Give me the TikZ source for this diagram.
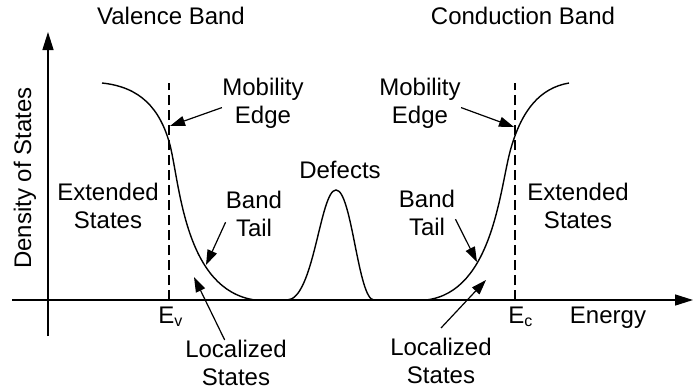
\documentclass[tikz,border=0pt]{standalone}
\usepackage{fontspec}
\setmainfont{Liberation Sans}
\usetikzlibrary{arrows.meta}

\begin{document}
\begin{tikzpicture}[x=0.5pt,y=-0.5pt,font=\fontsize{12}{14}\selectfont,
lbl/.style={inner sep=0pt,align=center},
axisline/.style={-{Triangle[length=9pt,width=5.5pt]},line width=.7pt},
pointer/.style={-{Triangle[length=7.5pt,width=5pt]},line width=.6pt},
guide/.style={dash pattern=on 5pt off 2.5pt,line width=.6pt},
dos/.style={line width=.7pt}]
\useasboundingbox (0,0) rectangle (694,391);
% axes
\draw[axisline] (12,300) -- (693,300);
\draw[axisline] (48,336) -- (48,32);
\node[lbl,rotate=90] (dens) at (25,178) {Density of States};
\node[lbl,anchor=base] (energy) at (608,323) {Energy};
% band edges
\coordinate (Ev) at (169,300);
\coordinate (Ec) at (515,300);
\draw[guide] (Ev) -- (169,83);
\draw[guide] (Ec) -- (515,83);
\node[lbl,anchor=base west] (evlbl) at (158,323) {E\textsubscript{v}};
\node[lbl,anchor=base west] (eclbl) at (508,323) {E\textsubscript{c}};
% density of states curves
\draw[dos] (102,83) .. controls (140,87) and (160,108) .. (170,145)
 .. controls (180,185) and (185,290) .. (255,300);
\draw[dos] (287,300) .. controls (314,300) and (320,190) .. (336,190)
 .. controls (352,190) and (358,300) .. (374,300);
\draw[dos] (426,300) .. controls (494,292) and (500,185) .. (511,148)
 .. controls (522,110) and (540,88) .. (569,83);
% labels
\node[lbl,anchor=base] (valence) at (171,25) {Valence Band};
\node[lbl,anchor=base] (conduction) at (523,25) {Conduction Band};
\node[lbl,anchor=north] (mobV) at (263,78) {Mobility\\Edge};
\node[lbl,anchor=north] (mobC) at (420,78) {Mobility\\Edge};
\node[lbl,anchor=north] (extV) at (108,183) {Extended\\States};
\node[lbl,anchor=north] (extC) at (578,183) {Extended\\States};
\node[lbl,anchor=north] (tailV) at (254,191) {Band\\Tail};
\node[lbl,anchor=north] (tailC) at (427,190) {Band\\Tail};
\node[lbl,anchor=base] (defects) at (340,178) {Defects};
\node[lbl,anchor=north] (locV) at (236,340) {Localized\\States};
\node[lbl,anchor=north] (locC) at (441,338) {Localized\\States};
% pointers
\coordinate (mobVtip) at (170,126);
\coordinate (mobCtip) at (514,127);
\coordinate (tailVtip) at (206,265);
\coordinate (tailCtip) at (477,262);
\coordinate (locVtip) at (194,277);
\coordinate (locCtip) at (486,280);
\draw[pointer] ([yshift=-2pt]mobV.west) -- (mobVtip);
\draw[pointer] ([yshift=-2pt]mobC.east) -- (mobCtip);
\draw[pointer] ([yshift=-4pt]tailV.west) -- (tailVtip);
\draw[pointer] ([yshift=-3pt]tailC.east) -- (tailCtip);
\draw[pointer] (locV) -- (locVtip);
\draw[pointer] ([yshift=5pt]locC.north) -- (locCtip);
\end{tikzpicture}
\end{document}
